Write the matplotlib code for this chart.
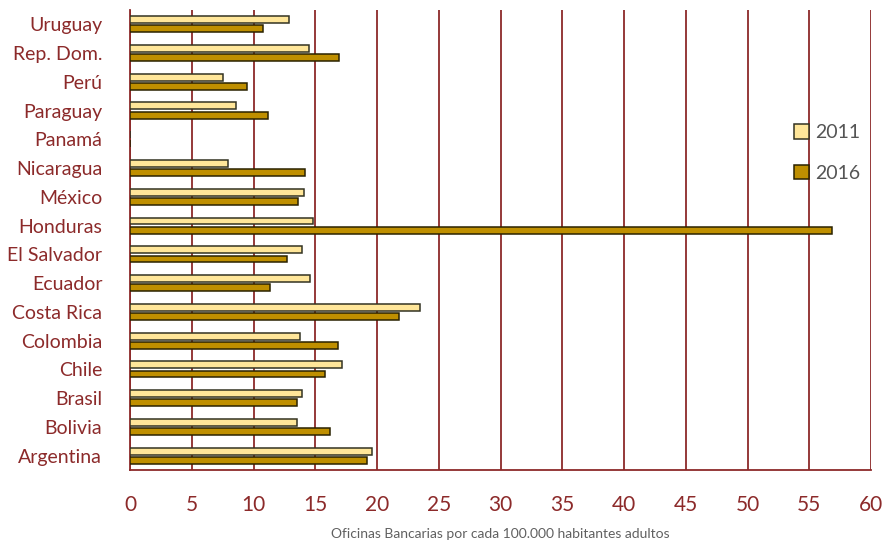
import numpy as np
import matplotlib.pyplot as plt

# countries listed bottom-to-top
countries = ["Argentina", "Bolivia", "Brasil", "Chile", "Colombia", "Costa Rica",
             "Ecuador", "El Salvador", "Honduras", "México", "Nicaragua",
             "Panamá", "Paraguay", "Perú", "Rep. Dom.", "Uruguay"]
v2011 = [19.6, 13.5, 13.9, 17.2, 13.8, 23.5, 14.6, 13.9, 14.8, 14.1, 7.9,
         0.0, 8.6, 7.5, 14.5, 12.9]
v2016 = [19.2, 16.2, 13.5, 15.8, 16.8, 21.8, 11.3, 12.7, 56.8, 13.6, 14.2,
         0.0, 11.2, 9.5, 16.9, 10.8]

red = "#8c2a2a"
c11 = "#ffe699"
c16 = "#bf8f00"

plt.rcParams["font.family"] = ["Lato", "DejaVu Sans"]

fig = plt.figure(figsize=(8.87, 5.46), dpi=100)
ax = fig.add_axes([0.1466, 0.139, 0.8354, 0.843])

y = np.arange(len(countries))
h = 0.24
ax.barh(y + 0.16, v2011, height=h, color=c11, edgecolor="#333322",
        linewidth=1.1, label="2011", zorder=3)
ax.barh(y - 0.16, v2016, height=h, color=c16, edgecolor="#2a2200",
        linewidth=1.1, label="2016", zorder=3)

ax.set_xlim(0, 60)
ax.set_ylim(-0.5, len(countries) - 0.5)
ax.set_xticks(range(0, 61, 5))
ax.grid(axis="x", color=red, linewidth=1.3, zorder=0)
ax.set_yticks(y)
ax.set_yticklabels(countries)

for s in ["top", "right"]:
    ax.spines[s].set_visible(False)
for s in ["left", "bottom"]:
    ax.spines[s].set_color(red)
    ax.spines[s].set_linewidth(1.3)

ax.tick_params(axis="y", length=0, pad=20, labelsize=14, labelcolor=red)
ax.tick_params(axis="x", length=0, pad=18, labelsize=15, labelcolor=red)

ax.set_xlabel("Oficinas Bancarias por cada 100.000 habitantes adultos",
              fontsize=10, color="#606060", labelpad=9)

leg = ax.legend(loc="upper left", bbox_to_anchor=(0.872, 0.79), frameon=False,
                fontsize=14, handlelength=0.8, handleheight=0.8,
                handletextpad=0.3, labelspacing=1.2)
for t in leg.get_texts():
    t.set_color("#555555")

fig.savefig("out.png", dpi=100)
